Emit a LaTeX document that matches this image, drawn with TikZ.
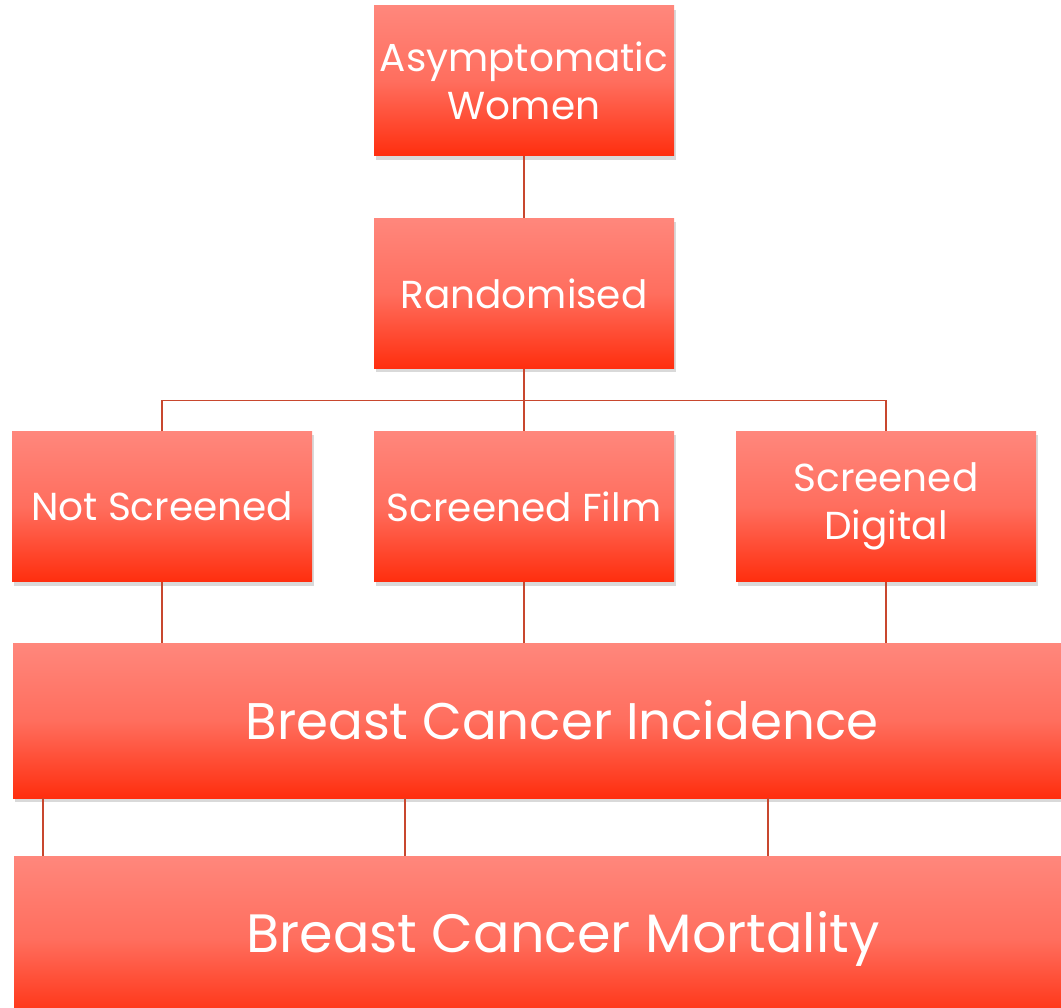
\documentclass[tikz,border=0pt]{standalone}
\usepackage{fontspec}
\setmainfont{Poppins}
\usetikzlibrary{positioning,shadows}

\definecolor{boxtop}{HTML}{FF877C}
\definecolor{boxmid}{HTML}{FF6E5E}
\definecolor{boxbot}{HTML}{FF2E0E}
\definecolor{linkred}{HTML}{C8472E}

\begin{document}
\begin{tikzpicture}[
        x=1pt, y=-1pt,
        redbox/.style={rectangle, top color=boxtop, bottom color=boxbot, middle color=boxmid,
            text=white, align=center, inner sep=0pt,
            minimum width=300pt, minimum height=150pt,
            font=\fontsize{39}{48}\selectfont,
            drop shadow={opacity=0.3, shadow xshift=2pt, shadow yshift=-4pt}},
        widebox/.style={redbox, minimum width=1098pt, minimum height=155pt,
            font=\fontsize{51.5}{60}\selectfont},
        link/.style={draw=linkred, line width=1.4pt},
        ]
        \useasboundingbox (0,0) rectangle (1061,1008);

        % Nodes
        \node[redbox] (asym)    at (524,81)    {Asymptomatic\\Women};
        \node[redbox] (rand)    at (524,293.5) {Randomised};
        \node[redbox] (notscr)  at (162,506.5) {Not Screened};
        \node[redbox] (film)    at (524,506.5) {Screened Film};
        \node[redbox] (digital) at (886,506.5) {Screened\\Digital};
        \node[widebox] (incid)  at (562,720.5) {Breast Cancer Incidence};
        \node[widebox, minimum height=166pt, font=\fontsize{54}{60}\selectfont]
            (mort) at (563,939) {Breast Cancer Mortality};

        \coordinate (split) at ([yshift=-32pt]rand.south);
        \coordinate (drop1) at ([xshift=30pt]incid.south west);
        \coordinate (drop2) at ([xshift=392pt]incid.south west);
        \coordinate (drop3) at ([xshift=755pt]incid.south west);

        % Links
        \draw[link] (asym) -- (rand);
        \draw[link] (rand) -- (film);
        \draw[link] (notscr.north) |- (split) -| (digital.north);
        \draw[link] (notscr.south) -- (notscr.south |- incid.north);
        \draw[link] (film.south) -- (film.south |- incid.north);
        \draw[link] (digital.south) -- (digital.south |- incid.north);
        \draw[link] (drop1) -- (drop1 |- mort.north);
        \draw[link] (drop2) -- (drop2 |- mort.north);
        \draw[link] (drop3) -- (drop3 |- mort.north);

    \end{tikzpicture}
\end{document}
